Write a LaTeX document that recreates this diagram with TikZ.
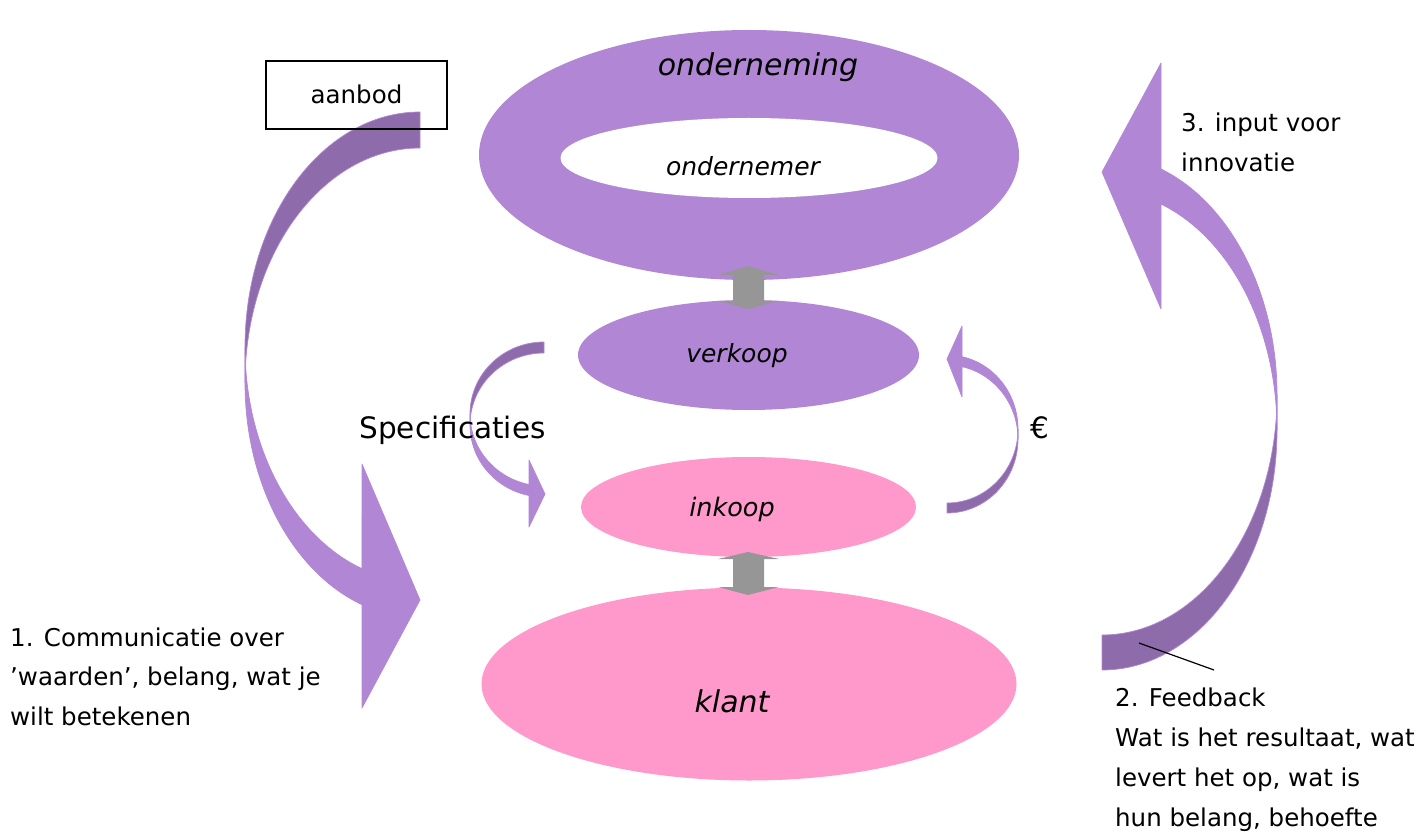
\documentclass[tikz,border=0pt]{standalone}
\usepackage{fontspec}
\setmainfont{DejaVu Sans}
\usetikzlibrary{shapes.geometric}

\definecolor{lilac}{RGB}{177,135,213}
\definecolor{lilacdark}{RGB}{142,107,170}
\definecolor{rose}{RGB}{255,153,204}
\definecolor{linkgray}{RGB}{150,150,150}

\begin{document}
\begin{tikzpicture}[x=1pt,y=-1pt,
  blob/.style={ellipse, inner sep=0pt, draw=none},
  body/.style={fill=lilac, draw=lilac, line width=0.7pt, line join=round},
  back/.style={fill=lilacdark, draw=lilac, line width=0.7pt, line join=round},
  link/.style={fill=linkgray},
  lbl/.style={font=\fontsize{24.5}{30}\selectfont, anchor=base west, inner sep=0pt},
  big/.style={font=\fontsize{29.5}{34}\selectfont, anchor=base, inner sep=0pt},
  itl/.style={font=\fontsize{#1}{#1}\selectfont\itshape, anchor=base, inner sep=0pt}]

\useasboundingbox (0,0) rectangle (1424,834);

% the four levels
\node[blob, fill=lilac, minimum width=540pt, minimum height=250pt] (onderneming) at (749,155) {};
\node[blob, fill=white, minimum width=377pt, minimum height=80pt] (ondernemer) at (749,158) {};
\node[blob, fill=lilac, minimum width=341pt, minimum height=110pt] (verkoop) at (748.5,355) {};
\node[blob, fill=rose, minimum width=335pt, minimum height=100pt] (inkoop) at (748.5,507) {};
\node[blob, fill=rose, minimum width=535pt, minimum height=193pt] (klant) at (749,684) {};

% grey two-way links between the levels
\fill[link] (748,266) -- (779,275) -- (764,275) -- (764,301) -- (779,301) -- (748,309)
  -- (718,301) -- (733,301) -- (733,275) -- (718,275) -- cycle;
\fill[link] (748,552) -- (779,559) -- (764,559) -- (764,587) -- (779,587) -- (748,595)
  -- (718,587) -- (733,587) -- (733,559) -- (718,559) -- cycle;

% big curved arrow on the left (aanbod -> klant)
\filldraw[body] (245,347) arc[start angle=180, end angle=109.36, x radius=175, y radius=235]
  -- (362,464) -- (420,600) -- (362,708) -- (362,604.7)
  arc[start angle=109.36, end angle=180, x radius=175, y radius=235] -- cycle;
\filldraw[back] (420,112) arc[start angle=270, end angle=180, x radius=175, y radius=235]
  -- (245,383) arc[start angle=180, end angle=270, x radius=175, y radius=235] -- cycle;

% big curved arrow on the right (feedback -> innovatie)
\filldraw[body] (1277,430) arc[start angle=360, end angle=289.7, x radius=175, y radius=240]
  -- (1161,309) -- (1102,172) -- (1161,63) -- (1161,169)
  arc[start angle=289.7, end angle=360, x radius=175, y radius=240] -- cycle;
\filldraw[back] (1102,670) arc[start angle=90, end angle=0, x radius=175, y radius=240]
  -- (1277,395) arc[start angle=0, end angle=90, x radius=175, y radius=240] -- cycle;

% small curved arrow: specificaties
\filldraw[body] (470,414) arc[start angle=180, end angle=101.7, x radius=74, y radius=72]
  -- (529,460) -- (545,494) -- (529,527) -- (529,495.5)
  arc[start angle=101.7, end angle=180, x radius=74, y radius=72] -- cycle;
\filldraw[back] (544,342) arc[start angle=270, end angle=180, x radius=74, y radius=72]
  -- (470,425) arc[start angle=180, end angle=270, x radius=74, y radius=72] -- cycle;

% small curved arrow: euro
\filldraw[body] (1018,439) arc[start angle=360, end angle=282.2, x radius=71, y radius=74]
  -- (962,397) -- (947,359) -- (962,326) -- (962,356.7)
  arc[start angle=282.2, end angle=360, x radius=71, y radius=74] -- cycle;
\filldraw[back] (947,513) arc[start angle=90, end angle=0, x radius=71, y radius=74]
  -- (1018,429) arc[start angle=0, end angle=90, x radius=71, y radius=74] -- cycle;

% aanbod box
\node[draw=black, line width=1.5pt, minimum width=181pt, minimum height=68pt, inner sep=0pt] (aanbod) at (356.5,95) {};
\node[lbl, anchor=base] (aanbodtxt) at (356.5,104) {aanbod};

% texts in the levels
\node[itl=30] (t-onderneming) at (758,76) {onderneming};
\node[itl=25] (t-ondernemer) at (743,176) {ondernemer};
\node[itl=25] (t-verkoop) at (737,362) {verkoop};
\node[itl=25.5] (t-inkoop) at (732,516) {inkoop};
\node[itl=30] (t-klant) at (732,712) {klant};

\node[big] (spec) at (452.5,438) {Specificaties};
\node[big] (euro) at (1040,438) {€};

% left caption
\node[lbl] (c1) at (10,646) {1. Communicatie over};
\node[lbl] (c2) at (10,685.5) {’waarden’, belang, wat je};
\node[lbl] (c3) at (10,725) {wilt betekenen};

% right captions
\node[lbl] (i1) at (1181,132) {3. input voor};
\node[lbl] (i2) at (1181,171.5) {innovatie};
\node[lbl] (f1) at (1115,706) {2. Feedback};
\node[lbl] (f2) at (1115,746) {Wat is het resultaat, wat};
\node[lbl] (f3) at (1115,786) {levert het op, wat is};
\node[lbl] (f4) at (1115,826) {hun belang, behoefte};

% callout line for the feedback arrow
\coordinate (fb-arrow) at (1139,643);
\coordinate (fb-text) at (1214,670);
\draw[black, line width=1.2pt] (fb-arrow) -- (fb-text);
\end{tikzpicture}
\end{document}
